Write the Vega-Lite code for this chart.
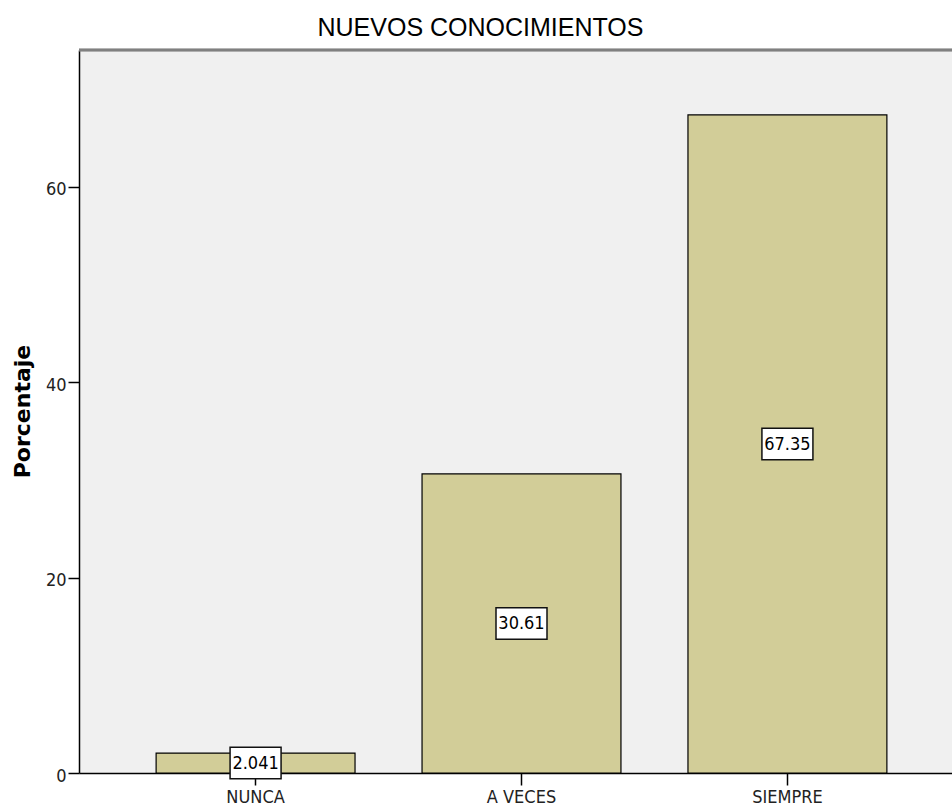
{
  "$schema": "https://vega.github.io/schema/vega-lite/v6.json",
  "width": 873,
  "height": 723,
  "autosize": {"type": "none"},
  "padding": {"left": 79, "top": 50, "right": 0, "bottom": 34},
  "background": "white",
  "config": {"view": {"fill": "#f0f0f0", "stroke": null}},
  "title": {
    "text": "NUEVOS CONOCIMIENTOS",
    "font": "Liberation Sans",
    "fontSize": 25,
    "fontWeight": "normal",
    "color": "#000000",
    "dx": -35,
    "offset": 8
  },
  "data": {
    "values": [
      {"cat": "NUNCA", "pct": 2.041},
      {"cat": "A VECES", "pct": 30.61},
      {"cat": "SIEMPRE", "pct": 67.35}
    ]
  },
  "layer": [
    {
      "mark": {"type": "bar", "fill": "#d2cd98", "stroke": "#000000", "strokeWidth": 1.2},
      "encoding": {
        "x": {
          "field": "cat", "type": "nominal", "sort": null,
          "scale": {"range": [0, 885], "paddingInner": 0.252, "paddingOuter": 0.29},
          "axis": {
            "title": null, "labelAngle": 0, "tickSize": 12, "tickWidth": 1.5, "tickColor": "#000000",
            "domainColor": "#000000", "domainWidth": 1.5,
            "labelFont": "Liberation Sans Narrow, DejaVu Sans Condensed, Liberation Sans", "labelFontSize": 18, "labelColor": "#222222", "labelPadding": 3
          }
        },
        "y": {
          "field": "pct", "type": "quantitative",
          "scale": {"domain": [0, 74], "nice": false},
          "axis": {
            "values": [0, 20, 40, 60], "grid": false,
            "tickSize": 11, "tickWidth": 1.5, "tickColor": "#000000",
            "domainColor": "#000000", "domainWidth": 1.5,
            "labelFont": "Liberation Sans Narrow, DejaVu Sans Condensed, Liberation Sans", "labelFontSize": 18, "labelColor": "#222222", "labelPadding": 2, "labelOffset": 3,
            "title": "Porcentaje", "titleFont": "DejaVu Sans", "titleFontSize": 22, "titleFontWeight": "bold", "titleColor": "#000000",
            "titleX": -50, "titleY": 361, "titleBaseline": "alphabetic", "titleAngle": -90, "titleAlign": "center"
          }
        }
      }
    },
    {
      "mark": {"type": "rule", "stroke": "#808080", "strokeWidth": 2.5},
      "encoding": {"y": {"datum": 74, "type": "quantitative"}}
    },
    {
      "transform": [{"calculate": "datum.pct / 2", "as": "mid"}],
      "layer": [
        {
          "mark": {"type": "point", "shape": "M-1,-0.62L1,-0.62L1,0.62L-1,0.62Z", "size": 2601, "filled": true, "fill": "#ffffff", "stroke": "#111111", "strokeWidth": 1.5, "opacity": 1},
          "encoding": {
            "x": {"field": "cat", "type": "nominal", "sort": null},
            "y": {"field": "mid", "type": "quantitative"}
          }
        },
        {
          "mark": {"type": "text", "font": "Liberation Sans Narrow, DejaVu Sans Condensed, Liberation Sans", "fontSize": 18, "color": "#000000", "baseline": "middle", "align": "center", "dy": 1},
          "encoding": {
            "x": {"field": "cat", "type": "nominal", "sort": null},
            "y": {"field": "mid", "type": "quantitative"},
            "text": {"field": "pct", "type": "quantitative", "format": ".4~g"}
          }
        }
      ]
    }
  ]
}
